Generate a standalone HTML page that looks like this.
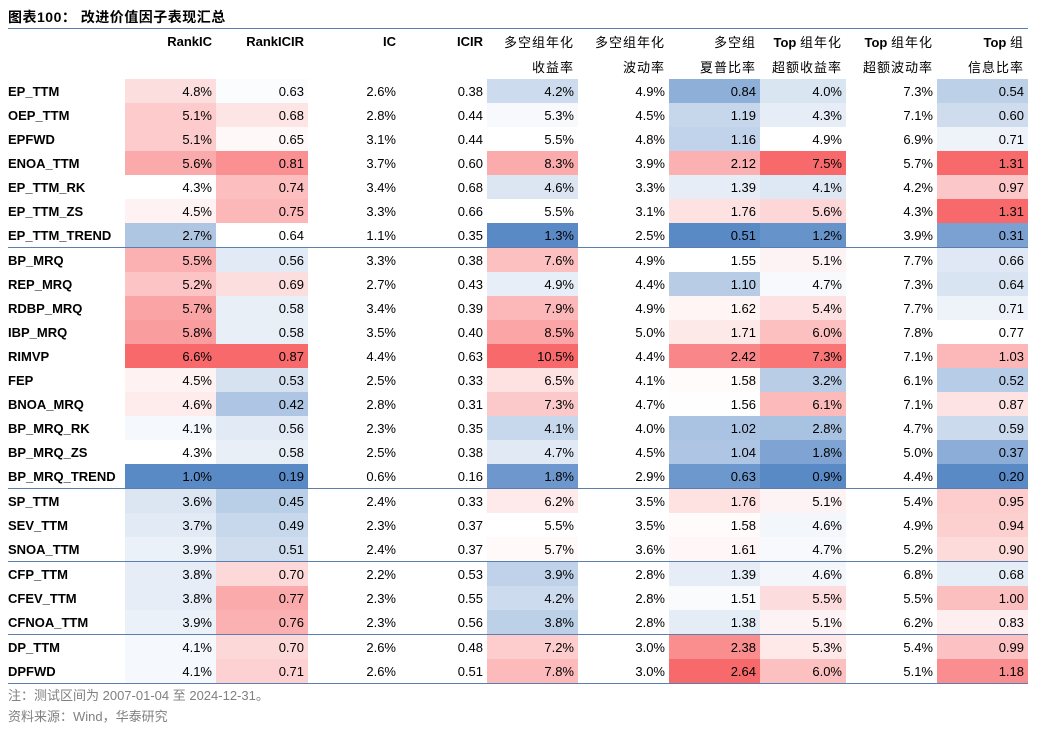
<!DOCTYPE html>
<html><head><meta charset="utf-8"><style>
body{margin:0;background:#fff;width:1037px;height:730px;overflow:hidden;font-family:"Liberation Sans","Noto Sans CJK SC",sans-serif;color:#000}
.title{position:absolute;left:8px;top:7px;font-size:14px;font-weight:bold;letter-spacing:0.5px}
.tl{position:absolute;left:8px;top:28px;width:1020px;height:1px;background:#5b7eae}
table{position:absolute;left:8px;top:29px;border-collapse:collapse;table-layout:fixed;font-size:13px}
td,th{padding:0 4px 0 0;text-align:right;height:24px;white-space:nowrap;overflow:hidden}
th{font-weight:bold;height:25px;font-size:13px}
th span{font-weight:normal;letter-spacing:1px}
td.n{text-align:left;font-weight:bold;padding-left:0}
tr.s td{border-top:1px solid #5b7eae}
tr.last td{border-bottom:1px solid #5b7eae}
.note{position:absolute;left:8px;font-size:13px;color:#808080}
</style></head><body>
<div class="title">图表100： 改进价值因子表现汇总</div>
<div class="tl"></div>
<table id="t">
<colgroup><col style="width:117px"><col style="width:91px"><col style="width:92px"><col style="width:92px"><col style="width:87px"><col style="width:91px"><col style="width:91px"><col style="width:91px"><col style="width:86px"><col style="width:91px"><col style="width:91px"></colgroup>
<tr><th></th><th>RankIC</th><th>RankICIR</th><th>IC</th><th>ICIR</th><th><span>多空组年化</span></th><th><span>多空组年化</span></th><th><span>多空组</span></th><th>Top <span>组年化</span></th><th>Top <span>组年化</span></th><th>Top <span>组</span></th></tr>
<tr><th></th><th></th><th></th><th></th><th></th><th><span>收益率</span></th><th><span>波动率</span></th><th><span>夏普比率</span></th><th><span>超额收益率</span></th><th><span>超额波动率</span></th><th><span>信息比率</span></th></tr>
<tr><td class="n">EP_TTM</td><td>4.8%</td><td>0.63</td><td>2.6%</td><td>0.38</td><td>4.2%</td><td>4.9%</td><td>0.84</td><td>4.0%</td><td>7.3%</td><td>0.54</td></tr>
<tr><td class="n">OEP_TTM</td><td>5.1%</td><td>0.68</td><td>2.8%</td><td>0.44</td><td>5.3%</td><td>4.5%</td><td>1.19</td><td>4.3%</td><td>7.1%</td><td>0.60</td></tr>
<tr><td class="n">EPFWD</td><td>5.1%</td><td>0.65</td><td>3.1%</td><td>0.44</td><td>5.5%</td><td>4.8%</td><td>1.16</td><td>4.9%</td><td>6.9%</td><td>0.71</td></tr>
<tr><td class="n">ENOA_TTM</td><td>5.6%</td><td>0.81</td><td>3.7%</td><td>0.60</td><td>8.3%</td><td>3.9%</td><td>2.12</td><td>7.5%</td><td>5.7%</td><td>1.31</td></tr>
<tr><td class="n">EP_TTM_RK</td><td>4.3%</td><td>0.74</td><td>3.4%</td><td>0.68</td><td>4.6%</td><td>3.3%</td><td>1.39</td><td>4.1%</td><td>4.2%</td><td>0.97</td></tr>
<tr><td class="n">EP_TTM_ZS</td><td>4.5%</td><td>0.75</td><td>3.3%</td><td>0.66</td><td>5.5%</td><td>3.1%</td><td>1.76</td><td>5.6%</td><td>4.3%</td><td>1.31</td></tr>
<tr><td class="n">EP_TTM_TREND</td><td>2.7%</td><td>0.64</td><td>1.1%</td><td>0.35</td><td>1.3%</td><td>2.5%</td><td>0.51</td><td>1.2%</td><td>3.9%</td><td>0.31</td></tr>
<tr class="s"><td class="n">BP_MRQ</td><td>5.5%</td><td>0.56</td><td>3.3%</td><td>0.38</td><td>7.6%</td><td>4.9%</td><td>1.55</td><td>5.1%</td><td>7.7%</td><td>0.66</td></tr>
<tr><td class="n">REP_MRQ</td><td>5.2%</td><td>0.69</td><td>2.7%</td><td>0.43</td><td>4.9%</td><td>4.4%</td><td>1.10</td><td>4.7%</td><td>7.3%</td><td>0.64</td></tr>
<tr><td class="n">RDBP_MRQ</td><td>5.7%</td><td>0.58</td><td>3.4%</td><td>0.39</td><td>7.9%</td><td>4.9%</td><td>1.62</td><td>5.4%</td><td>7.7%</td><td>0.71</td></tr>
<tr><td class="n">IBP_MRQ</td><td>5.8%</td><td>0.58</td><td>3.5%</td><td>0.40</td><td>8.5%</td><td>5.0%</td><td>1.71</td><td>6.0%</td><td>7.8%</td><td>0.77</td></tr>
<tr><td class="n">RIMVP</td><td>6.6%</td><td>0.87</td><td>4.4%</td><td>0.63</td><td>10.5%</td><td>4.4%</td><td>2.42</td><td>7.3%</td><td>7.1%</td><td>1.03</td></tr>
<tr><td class="n">FEP</td><td>4.5%</td><td>0.53</td><td>2.5%</td><td>0.33</td><td>6.5%</td><td>4.1%</td><td>1.58</td><td>3.2%</td><td>6.1%</td><td>0.52</td></tr>
<tr><td class="n">BNOA_MRQ</td><td>4.6%</td><td>0.42</td><td>2.8%</td><td>0.31</td><td>7.3%</td><td>4.7%</td><td>1.56</td><td>6.1%</td><td>7.1%</td><td>0.87</td></tr>
<tr><td class="n">BP_MRQ_RK</td><td>4.1%</td><td>0.56</td><td>2.3%</td><td>0.35</td><td>4.1%</td><td>4.0%</td><td>1.02</td><td>2.8%</td><td>4.7%</td><td>0.59</td></tr>
<tr><td class="n">BP_MRQ_ZS</td><td>4.3%</td><td>0.58</td><td>2.5%</td><td>0.38</td><td>4.7%</td><td>4.5%</td><td>1.04</td><td>1.8%</td><td>5.0%</td><td>0.37</td></tr>
<tr><td class="n">BP_MRQ_TREND</td><td>1.0%</td><td>0.19</td><td>0.6%</td><td>0.16</td><td>1.8%</td><td>2.9%</td><td>0.63</td><td>0.9%</td><td>4.4%</td><td>0.20</td></tr>
<tr class="s"><td class="n">SP_TTM</td><td>3.6%</td><td>0.45</td><td>2.4%</td><td>0.33</td><td>6.2%</td><td>3.5%</td><td>1.76</td><td>5.1%</td><td>5.4%</td><td>0.95</td></tr>
<tr><td class="n">SEV_TTM</td><td>3.7%</td><td>0.49</td><td>2.3%</td><td>0.37</td><td>5.5%</td><td>3.5%</td><td>1.58</td><td>4.6%</td><td>4.9%</td><td>0.94</td></tr>
<tr><td class="n">SNOA_TTM</td><td>3.9%</td><td>0.51</td><td>2.4%</td><td>0.37</td><td>5.7%</td><td>3.6%</td><td>1.61</td><td>4.7%</td><td>5.2%</td><td>0.90</td></tr>
<tr class="s"><td class="n">CFP_TTM</td><td>3.8%</td><td>0.70</td><td>2.2%</td><td>0.53</td><td>3.9%</td><td>2.8%</td><td>1.39</td><td>4.6%</td><td>6.8%</td><td>0.68</td></tr>
<tr><td class="n">CFEV_TTM</td><td>3.8%</td><td>0.77</td><td>2.3%</td><td>0.55</td><td>4.2%</td><td>2.8%</td><td>1.51</td><td>5.5%</td><td>5.5%</td><td>1.00</td></tr>
<tr><td class="n">CFNOA_TTM</td><td>3.9%</td><td>0.76</td><td>2.3%</td><td>0.56</td><td>3.8%</td><td>2.8%</td><td>1.38</td><td>5.1%</td><td>6.2%</td><td>0.83</td></tr>
<tr class="s"><td class="n">DP_TTM</td><td>4.1%</td><td>0.70</td><td>2.6%</td><td>0.48</td><td>7.2%</td><td>3.0%</td><td>2.38</td><td>5.3%</td><td>5.4%</td><td>0.99</td></tr>
<tr class="last"><td class="n">DPFWD</td><td>4.1%</td><td>0.71</td><td>2.6%</td><td>0.51</td><td>7.8%</td><td>3.0%</td><td>2.64</td><td>6.0%</td><td>5.1%</td><td>1.18</td></tr>
</table>
<div class="note" style="top:685px">注：测试区间为 2007-01-04 至 2024-12-31。</div>
<div class="note" style="top:706px">资料来源：Wind，华泰研究</div>
<script>
var rows=[].slice.call(document.querySelectorAll('#t tr')).slice(2);
[1,2,5,7,8,10].forEach(function(c){
 var cells=rows.map(function(r){return r.children[c]});
 var v=cells.map(function(td){return parseFloat(td.textContent)});
 var s=v.slice().sort(function(a,b){return a-b});
 var mn=s[0],mx=s[s.length-1],n=s.length,p=(n-1)*0.5,md=s[Math.floor(p)]+(s[Math.ceil(p)]-s[Math.floor(p)])*(p-Math.floor(p));
 cells.forEach(function(td,i){
  var x=v[i],r,g,b,t;
  if(x>=md){t=mx>md?(x-md)/(mx-md):0;r=255+(248-255)*t;g=255+(105-255)*t;b=255+(107-255)*t;}
  else{t=(md-x)/(md-mn);r=255+(90-255)*t;g=255+(138-255)*t;b=255+(198-255)*t;}
  td.style.background='rgb('+Math.round(r)+','+Math.round(g)+','+Math.round(b)+')';
 });
});
</script>
</body></html>
